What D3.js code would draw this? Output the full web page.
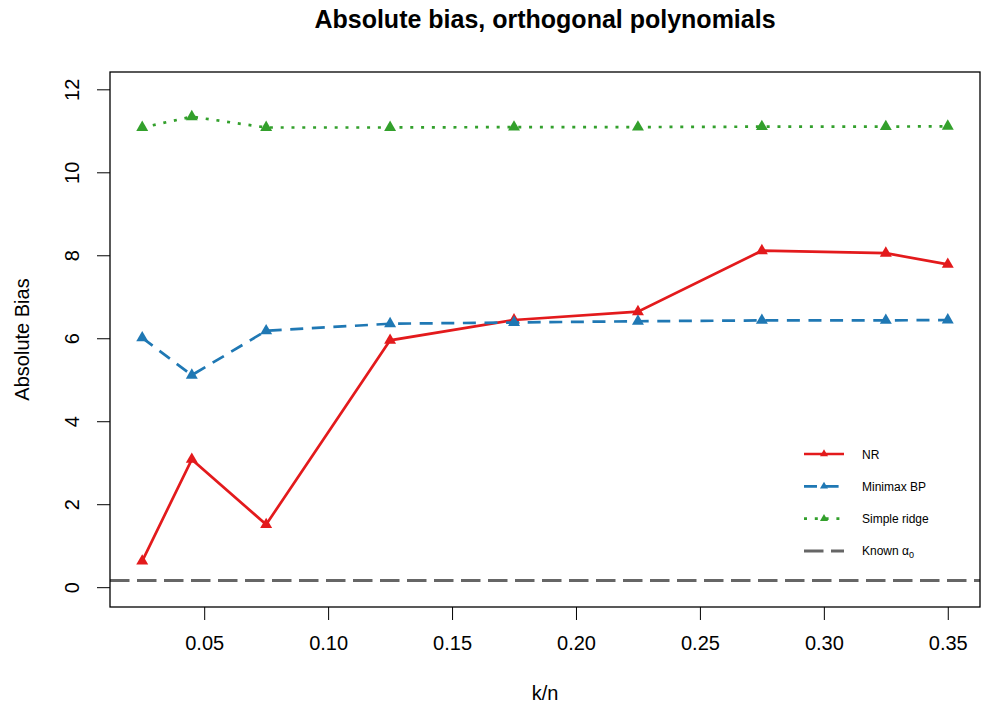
<!DOCTYPE html>
<html>
  <head>
    <title>Absolute bias, orthogonal polynomials</title>
    <script src="https://d3js.org/d3.v7.min.js"></script>
    <style>
      body { margin: 0; background: #fff; }
      text { font-family: "Liberation Sans", Arial, sans-serif; fill: #000; }
      .title { font-size: 25px; font-weight: bold; }
      .tick-label, .axis-label { font-size: 20px; }
      .legend text { font-size: 12px; }
    </style>
  </head>
  <body>
    <div id="chart"></div>
    <script>
      // k/n values
      const kn = [0.025, 0.045, 0.075, 0.125, 0.175, 0.225, 0.275, 0.325, 0.35];

      // series values
      const nr = [0.63, 3.08, 1.51, 5.95, 6.44, 6.64, 8.11, 8.05, 7.78];
      const minimax = [6.01, 5.11, 6.18, 6.35, 6.38, 6.41, 6.43, 6.43, 6.44];
      const ridge = [11.08, 11.34, 11.08, 11.08, 11.09, 11.09, 11.10, 11.10, 11.11];
      const knownAlpha = 0.16;

      const xTicks = [0.05, 0.1, 0.15, 0.2, 0.25, 0.3, 0.35];
      const yTicks = [0, 2, 4, 6, 8, 10, 12];

      const seriesNames = ["NR", "Minimax BP", "Simple ridge"];
      const seriesColors = ["#E31A1C", "#1F78B4", "#33A02C"];
      const seriesDash = [null, "13,8.6", "3,7.8"];

      const W = 982, H = 710;
      const margin = { top: 72, right: 2, bottom: 103, left: 110 };
      const width = W - margin.left - margin.right;
      const height = H - margin.top - margin.bottom;

      // R style 4% axis expansion
      const expand = (lo, hi) => { const r = hi - lo; return [lo - 0.04 * r, hi + 0.04 * r]; };

      const svg = d3.select("#chart").append("svg")
        .attr("width", W).attr("height", H);
      const g = svg.append("g")
        .attr("transform", `translate(${margin.left}, ${margin.top})`);

      const x = d3.scaleLinear().domain(expand(d3.min(kn), d3.max(kn))).range([0, width]);
      const y = d3.scaleLinear().domain(expand(0, 11.94)).range([height, 0]);

      // axes
      const xAxis = g.append("g")
        .attr("transform", `translate(0, ${height})`)
        .call(d3.axisBottom(x).tickValues(xTicks).tickSize(13).tickPadding(16).tickFormat(d3.format(".2f")));
      xAxis.select(".domain").remove();
      xAxis.selectAll("line").attr("stroke", "#000");
      xAxis.selectAll("text").attr("class", "tick-label").attr("font-family", null).attr("font-size", null);

      const yAxis = g.append("g")
        .call(d3.axisLeft(y).tickValues(yTicks).tickSize(13).tickFormat(d3.format("d")));
      yAxis.select(".domain").remove();
      yAxis.selectAll("line").attr("stroke", "#000");
      yAxis.selectAll("text")
        .attr("class", "tick-label").attr("font-family", null).attr("font-size", null)
        .attr("x", null).attr("dy", null)
        .attr("transform", "translate(-31, 0) rotate(-90)")
        .attr("text-anchor", "middle");

      // known alpha0 reference line
      g.append("line")
        .attr("x1", 0).attr("x2", width)
        .attr("y1", y(knownAlpha)).attr("y2", y(knownAlpha))
        .attr("stroke", "#666666").attr("stroke-width", 3)
        .attr("stroke-dasharray", "19.5,7.5");

      const tri = d3.symbol().type(d3.symbolTriangle).size(62);

      const allSeries = [nr, minimax, ridge];
      allSeries.forEach((vals, i) => {
        const pts = kn.map((k, j) => [k, vals[j]]);
        g.append("path")
          .datum(pts)
          .attr("fill", "none")
          .attr("stroke", seriesColors[i])
          .attr("stroke-width", 2.7)
          .attr("stroke-dasharray", seriesDash[i])
          .attr("d", d3.line().x((d) => x(d[0])).y((d) => y(d[1])));
        g.selectAll(null)
          .data(pts)
          .enter()
          .append("path")
          .attr("d", tri)
          .attr("fill", seriesColors[i])
          .attr("transform", (d) => `translate(${x(d[0])}, ${y(d[1])})`);
      });

      // box
      g.append("rect")
        .attr("width", width).attr("height", height)
        .attr("fill", "none").attr("stroke", "#000").attr("stroke-width", 1.3);

      // legend
      const legend = g.append("g").attr("class", "legend")
        .attr("transform", `translate(${804 - margin.left}, ${454 - margin.top})`);
      const legendItems = seriesNames.map((n, i) => ({ name: n, color: seriesColors[i], dash: seriesDash[i], mark: true }))
        .concat([{ name: "Known", color: "#666666", dash: "19.5,7.5", mark: false }]);
      legendItems.forEach((d, i) => {
        const row = legend.append("g").attr("transform", `translate(0, ${i * 32.3})`);
        row.append("line")
          .attr("x1", 0).attr("x2", 40)
          .attr("stroke", d.color)
          .attr("stroke-width", d.mark ? 2.7 : 3)
          .attr("stroke-dasharray", d.dash);
        if (d.mark) {
          row.append("path")
            .attr("d", d3.symbol().type(d3.symbolTriangle).size(28))
            .attr("fill", d.color)
            .attr("transform", "translate(20, 0)");
        }
        const t = row.append("text")
          .attr("x", 58).attr("y", 4.5);
        t.append("tspan").text(d.name);
        if (!d.mark) {
          t.append("tspan").text(" \u03B1");
          t.append("tspan").attr("font-size", "9px").attr("dy", 3).text("0");
        }
      });

      // title and axis labels
      svg.append("text")
        .attr("class", "title")
        .attr("x", margin.left + width / 2).attr("y", 28)
        .attr("text-anchor", "middle")
        .text("Absolute bias, orthogonal polynomials");

      svg.append("text")
        .attr("class", "axis-label")
        .attr("x", margin.left + width / 2).attr("y", 700)
        .attr("text-anchor", "middle")
        .text("k/n");

      svg.append("text")
        .attr("class", "axis-label")
        .attr("transform", `translate(29, ${margin.top + height / 2}) rotate(-90)`)
        .attr("text-anchor", "middle")
        .text("Absolute Bias");
    </script>
  </body>
</html>
